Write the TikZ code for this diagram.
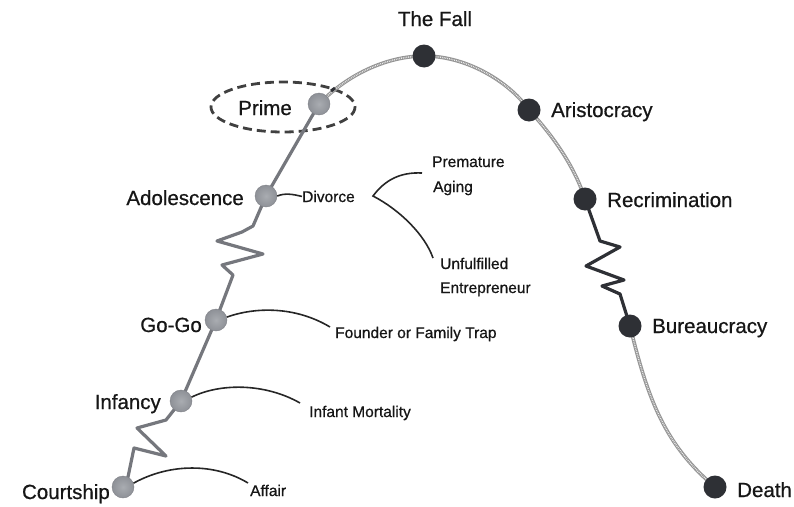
\documentclass[tikz,border=0pt]{standalone}
\usepackage{fontspec}
\setmainfont{Liberation Sans}[FakeBold=0.7]
\definecolor{lineg}{HTML}{75777D}
\definecolor{dotl}{HTML}{8E9197}
\definecolor{dotlin}{HTML}{A9ACB1}
\definecolor{dotd}{HTML}{2E3035}
\definecolor{arcg}{HTML}{959595}
\definecolor{txt}{HTML}{161616}
\tikzset{
  lightdot/.style={circle,minimum size=22pt,inner sep=0pt,inner color=dotlin,outer color=dotl,draw=dotl!90!black,line width=0.4pt},
  darkdot/.style={circle,minimum size=23pt,inner sep=0pt,fill=dotd},
  biglab/.style={inner sep=0pt,text=txt,font=\fontsize{20.5}{24}\selectfont},
  smalllab/.style={inner sep=0pt,text=txt,font=\fontsize{15.5}{18}\selectfont},
  stem/.style={draw=lineg,line width=3.2pt,line join=round,line cap=round},
  darkstem/.style={draw=dotd,line width=3.2pt,line join=round,line cap=round},
  arcbase/.style={draw=arcg,line width=3.6pt},
  arctex/.style={draw=white!85!gray,line width=1.4pt,dash pattern=on 0.8pt off 1pt},
  trap/.style={draw=black!85,line width=1.6pt}
}
\begin{document}
\begin{tikzpicture}[x=1pt,y=-1pt]
\useasboundingbox (0,0) rectangle (794,506);
% coordinates of dots
\coordinate (pC) at (123,487);
\coordinate (pI) at (181,401);
\coordinate (pG) at (216,320);
\coordinate (pA) at (266,196);
\coordinate (pP) at (319,104);
\coordinate (pF) at (424,56);
\coordinate (pAr) at (529,110);
\coordinate (pR) at (585,199);
\coordinate (pB) at (630,326);
\coordinate (pD) at (715,487);
% dashed ellipse around Prime
\draw[dash pattern=on 9pt off 5pt,line width=2.8pt,draw=black!75] (283,107) ellipse [x radius=72, y radius=25];
% textured arcs
\foreach \s in {arcbase,arctex}{
  \draw[\s] (pP) .. controls (350,72) and (390,56) .. (pF);
  \draw[\s] (pF) .. controls (470,56) and (512,85) .. (pAr);
  \draw[\s] (pAr) .. controls (555,138) and (575,168) .. (pR);
  \draw[\s] (pB) .. controls (648,400) and (665,445) .. (pD);
}
\draw[dotd,line width=3pt] (331,91) -- (335,88);
% left stem
\draw[stem] (pC) -- (128,477) -- (134,448) -- (166,456) -- (137,428) -- (166,420) -- (pI);
\draw[stem] (pI) -- (pG);
\draw[stem] (pG) -- (233,275) -- (222,265) -- (263,254) -- (217,241) -- (242,232) -- (253,226) -- (pA);
\draw[stem] (pA) -- (pP);
% right dark zigzag
\draw[darkstem] (pR) -- (600,241) -- (620,247) -- (586,266) -- (624,280) -- (602,286) -- (620,294) -- (pB);
% dots
\node[lightdot] (dC) at (pC) {};
\node[lightdot] (dI) at (pI) {};
\node[lightdot] (dG) at (pG) {};
\node[lightdot] (dA) at (pA) {};
\node[lightdot] (dP) at (pP) {};
\node[darkdot] (dF) at (pF) {};
\node[darkdot] (dAr) at (pAr) {};
\node[darkdot] (dR) at (pR) {};
\node[darkdot] (dB) at (pB) {};
\node[darkdot] (dD) at (pD) {};
% big labels
\node[biglab,anchor=base east] (lC) at (110,499) {Courtship};
\node[biglab,anchor=base east] (lI) at (161,409) {Infancy};
\node[biglab,anchor=base east] (lG) at (202,332) {Go-Go};
\node[biglab,anchor=base east] (lA) at (244,205) {Adolescence};
\node[biglab,anchor=base east] (lP) at (292,115) {Prime};
\node[biglab,anchor=base] (lF) at (435,26) {The Fall};
\node[biglab,anchor=base west] (lAr) at (551,117) {Aristocracy};
\node[biglab,anchor=base west] (lR) at (607,207) {Recrimination};
\node[biglab,anchor=base west] (lB) at (652,333) {Bureaucracy};
\node[biglab,anchor=base west] (lD) at (737,497) {Death};
% small labels
\node[smalllab,anchor=base west] (tAf) at (250,496) {Affair};
\node[smalllab,anchor=base west] (tIM) at (309,417) {Infant Mortality};
\node[smalllab,anchor=base west] (tFo) at (335,338) {Founder or Family Trap};
\node[smalllab,anchor=base west] (tDi) at (302,202) {Divorce};
\node[smalllab,anchor=base west] (tPr) at (432,167) {Premature};
\node[smalllab,anchor=base west] (tAg) at (433,192) {Aging};
\node[smalllab,anchor=base west] (tUn) at (440,269) {Unfulfilled};
\node[smalllab,anchor=base west] (tEn) at (440,293) {Entrepreneur};
% trap connectors
\coordinate (eAf) at (248,483);
\coordinate (eIM) at (300,403);
\coordinate (eFo) at (330,327);
\coordinate (bV) at (373,196);
\coordinate (bU) at (422,173);
\coordinate (bL) at (433,258);
\draw[trap] (dC.20) .. controls (170,463) and (215,463) .. (eAf);
\draw[trap] (dI.20) .. controls (220,383) and (265,383) .. (eIM);
\draw[trap] (dG.15) .. controls (255,307) and (295,306) .. (eFo);
\draw[trap] (dA.east) .. controls (285,193) and (292,194) .. (tDi.west);
\draw[trap] (bU) .. controls (400,172) and (385,180) .. (bV) .. controls (400,210) and (425,235) .. (bL);
\end{tikzpicture}
\end{document}
